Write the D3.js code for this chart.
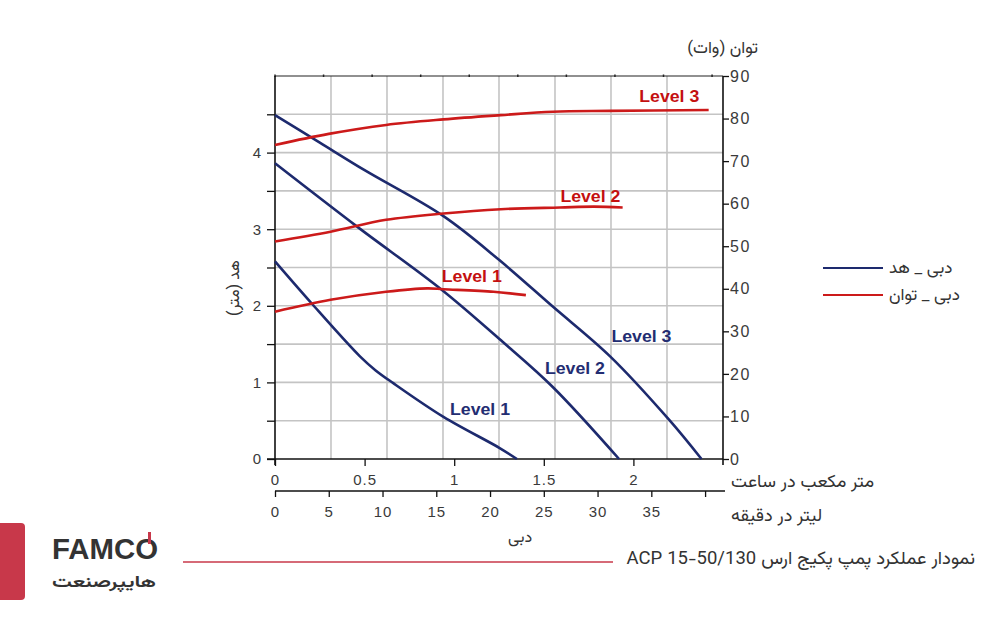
<!DOCTYPE html>
<html><head><meta charset="utf-8">
<script src="https://cdn.jsdelivr.net/npm/d3@7"></script>
<style>body{margin:0;background:#fff}svg{display:block}</style>
</head><body>
<svg id="c" width="1000" height="620"></svg>
<script>
// ---- data ----
const levels = ["Level 1", "Level 2", "Level 3"];
// head (m) vs flow (m³/h)
const headL1 = [[0,2.58],[0.205,2.03],[0.474,1.34],[0.56,1.16],[0.66,0.99],[0.94,0.55],[1.256,0.14],[1.35,0]];
const headL2 = [[0,3.86],[0.46,3.03],[0.93,2.21],[1.27,1.53],[1.55,0.94],[1.92,0]];
const headL3 = [[0,4.49],[0.25,4.13],[0.5,3.77],[0.94,3.17],[1.25,2.60],[1.55,1.99],[1.87,1.34],[2.2,0.51],[2.38,0]];
// power (W) vs flow (m³/h)
const powL1 = [[0,34.6],[0.31,37.4],[0.62,39.3],[0.85,40.1],[0.94,39.9],[1.22,39.3],[1.4,38.5]];
const powL2 = [[0,51.1],[0.31,53.4],[0.62,56.2],[0.94,57.7],[1.26,58.7],[1.59,59.1],[1.78,59.3],[1.94,59.1]];
const powL3 = [[0,73.8],[0.3,76.4],[0.62,78.5],[0.94,79.8],[1.26,80.8],[1.55,81.6],[1.87,81.8],[2.42,82.0]];
// label anchors (flow, value)
const headLabelPos = [[1.144,0.575],[1.674,1.11],[2.045,1.53]];
const powLabelPos = [[1.098,41.6],[1.76,60.4],[2.2,83.9]];
// ticks
const flowTicks = [0, 0.5, 1, 1.5, 2];
const lminTicks = [0, 5, 10, 15, 20, 25, 30, 35, 40];
const headTicks = [0, 0.5, 1, 1.5, 2, 2.5, 3, 3.5, 4, 4.5, 5];
const powTicks = [0, 10, 20, 30, 40, 50, 60, 70, 80, 90];
const gridFlow = [0.3125, 0.625, 0.9375, 1.25, 1.5625, 1.875, 2.1875];
const topMarks = [0, 0.271, 0.542, 0.813, 1.084, 1.355, 1.626, 1.897, 2.168, 2.439];

// ---- scales ----
const svg = d3.select("#c");
const x = d3.scaleLinear([0, 2.5], [275, 723]);
const xl = d3.scaleLinear([0, 2.5 * 1000 / 60], [275, 723]);
const yH = d3.scaleLinear([0, 5], [459, 76]);
const yP = d3.scaleLinear([0, 90], [459, 76]);

const BLUE = "#1d2a6e", RED = "#cc1a1a", GRID = "#c4c4c4";
const FA = "Vazirmatn, 'Noto Sans Arabic', 'DejaVu Sans', sans-serif";
const NUM = "'Liberation Sans', Arial, sans-serif";

// grid
svg.append("g").selectAll("line").data(headTicks.filter(d => d > 0 && d < 5)).join("line")
  .attr("x1", x(0)).attr("x2", x(2.5)).attr("y1", d => yH(d)).attr("y2", d => yH(d))
  .attr("stroke", GRID).attr("stroke-width", 1.6);
svg.append("g").selectAll("line").data(gridFlow).join("line")
  .attr("x1", d => x(d)).attr("x2", d => x(d)).attr("y1", yH(5)).attr("y2", yH(0))
  .attr("stroke", GRID).attr("stroke-width", 1.6);

// top frame line with tiny marks
svg.append("line").attr("x1", x(0)).attr("x2", x(2.5)).attr("y1", yH(5)).attr("y2", yH(5))
  .attr("stroke", "#222").attr("stroke-width", 1.2);
svg.append("g").selectAll("line").data(topMarks).join("line")
  .attr("x1", d => x(d)).attr("x2", d => x(d)).attr("y1", yH(5) - 1.5).attr("y2", yH(5) + 1)
  .attr("stroke", "#222").attr("stroke-width", 1.5);

function styleAxis(g) {
  g.select(".domain").remove();
  g.selectAll(".tick line").attr("stroke", "#111").attr("stroke-width", 1.3);
  g.selectAll(".tick text").attr("fill", "#3a3a3a").style("font-family", NUM).style("font-size", "15px").style("letter-spacing", "1px");
}

// left axis
svg.append("g").attr("transform", `translate(${x(0)},0)`)
  .call(d3.axisLeft(yH).tickValues(headTicks.filter(d => d < 5)).tickSize(8).tickPadding(5)
    .tickFormat(d => Number.isInteger(d) ? d : ""))
  .call(styleAxis);
svg.append("line").attr("x1", x(0)).attr("x2", x(0)).attr("y1", yH(5)).attr("y2", yH(0) + 6)
  .attr("stroke", "#111").attr("stroke-width", 1.6);

// right axis
svg.append("g").attr("transform", `translate(${x(2.5)},0)`)
  .call(d3.axisRight(yP).tickValues(powTicks).tickSize(6).tickPadding(1))
  .call(styleAxis)
  .call(g => g.selectAll(".tick text").style("font-size", "16px").style("letter-spacing", "1.5px"));
svg.append("line").attr("x1", x(2.5)).attr("x2", x(2.5)).attr("y1", yP(90)).attr("y2", yP(0) + 6)
  .attr("stroke", "#111").attr("stroke-width", 1.6);

// bottom axis m³/h
svg.append("g").attr("transform", `translate(0,${yH(0)})`)
  .call(d3.axisBottom(x).tickValues(flowTicks).tickSize(7).tickPadding(8).tickFormat(d3.format("~g")))
  .call(styleAxis);
svg.append("line").attr("x1", x(0) - 8).attr("x2", x(2.5)).attr("y1", yH(0)).attr("y2", yH(0))
  .attr("stroke", "#111").attr("stroke-width", 1.6);

// bottom axis l/min
svg.append("g").attr("transform", `translate(0,491)`)
  .call(d3.axisBottom(xl).tickValues(lminTicks).tickSize(6).tickPadding(9).tickFormat(d => d < 40 ? d : ""))
  .call(styleAxis);
svg.append("line").attr("x1", xl(0)).attr("x2", x(2.5) + 2).attr("y1", 491).attr("y2", 491)
  .attr("stroke", "#111").attr("stroke-width", 1.6);

// curves
const curve = d3.curveCatmullRom.alpha(0.5);
const lineH = d3.line().x(d => x(d[0])).y(d => yH(d[1])).curve(curve);
const lineP = d3.line().x(d => x(d[0])).y(d => yP(d[1])).curve(curve);
const cg = svg.append("g");
cg.selectAll(".h").data([headL1, headL2, headL3]).join("path")
  .attr("d", lineH).attr("fill", "none").attr("stroke", BLUE).attr("stroke-width", 2.6);
cg.selectAll(".p").data([powL1, powL2, powL3]).join("path")
  .attr("d", lineP).attr("fill", "none").attr("stroke", RED).attr("stroke-width", 2.6);

// curve labels
svg.append("g").selectAll("text").data(levels).join("text")
  .attr("x", (d, i) => x(headLabelPos[i][0])).attr("y", (d, i) => yH(headLabelPos[i][1]))
  .attr("text-anchor", "middle").attr("fill", "#232d72")
  .style("font-family", NUM).style("font-weight", "bold").style("font-size", "16px")
  .attr("textLength", 60).attr("lengthAdjust", "spacingAndGlyphs").text(d => d);
svg.append("g").selectAll("text").data(levels).join("text")
  .attr("x", (d, i) => x(powLabelPos[i][0])).attr("y", (d, i) => yP(powLabelPos[i][1]))
  .attr("text-anchor", "middle").attr("fill", "#c41010")
  .style("font-family", NUM).style("font-weight", "bold").style("font-size", "16px")
  .attr("textLength", 60).attr("lengthAdjust", "spacingAndGlyphs").text(d => d);

// axis titles (Persian)
function fa(txt, xx, yy, size, anchor) {
  return svg.append("text").attr("x", xx).attr("y", yy).attr("direction", "rtl")
    .attr("text-anchor", anchor).attr("fill", "#333")
    .style("font-family", FA).style("font-size", size + "px").text(txt);
}
fa("توان (وات)", 758, 53, 17, "start");
fa("دبی", 520, 542, 16, "middle");
fa("متر مکعب در ساعت", 731, 486.5, 18, "end");
fa("لیتر در دقیقه", 731, 521, 18, "end");
svg.append("text").attr("transform", "translate(239,288) rotate(-90)").attr("direction", "rtl")
  .attr("text-anchor", "middle").attr("fill", "#333").style("font-family", FA).style("font-size", "16px")
  .text("هد (متر)");

// legend
const legend = [{label: "دبی _ هد", color: BLUE, y: 268}, {label: "دبی _ توان", color: RED, y: 295}];
const lg = svg.append("g").selectAll("g").data(legend).join("g");
lg.append("line").attr("x1", 823).attr("x2", 883).attr("y1", d => d.y).attr("y2", d => d.y)
  .attr("stroke", d => d.color).attr("stroke-width", 2.2);
lg.append("text").attr("x", 889).attr("y", d => d.y + 5).attr("direction", "rtl").attr("text-anchor", "end")
  .attr("fill", "#333").style("font-family", FA).style("font-size", "17px").text(d => d.label);

// footer
svg.append("rect").attr("x", -10).attr("y", 523).attr("width", 35).attr("height", 77).attr("rx", 4).attr("fill", "#c8384a");
svg.append("text").attr("x", 52).attr("y", 559).attr("fill", "#333")
  .style("font-family", "'Liberation Sans Narrow', 'Liberation Sans', sans-serif").style("font-size", "29px").style("font-weight", "bold")
  .attr("textLength", 106).attr("lengthAdjust", "spacingAndGlyphs").text("FAMCO");
svg.append("rect").attr("x", 148).attr("y", 532).attr("width", 3).attr("height", 12).attr("fill", "#c8384a");
svg.append("text").attr("x", 156).attr("y", 587).attr("direction", "rtl").attr("text-anchor", "start").attr("fill", "#333")
  .style("font-family", FA).style("font-weight", "bold").style("font-size", "16px")
  .attr("textLength", 104).attr("lengthAdjust", "spacingAndGlyphs").text("هایپرصنعت");
svg.append("line").attr("x1", 183).attr("x2", 613).attr("y1", 562).attr("y2", 562).attr("stroke", "#c8384a").attr("stroke-width", 1.6);
fa("نمودار عملکرد پمپ پکیج ارس ACP 15-50/130", 975, 564, 18.5, "start");
</script>
</body></html>
